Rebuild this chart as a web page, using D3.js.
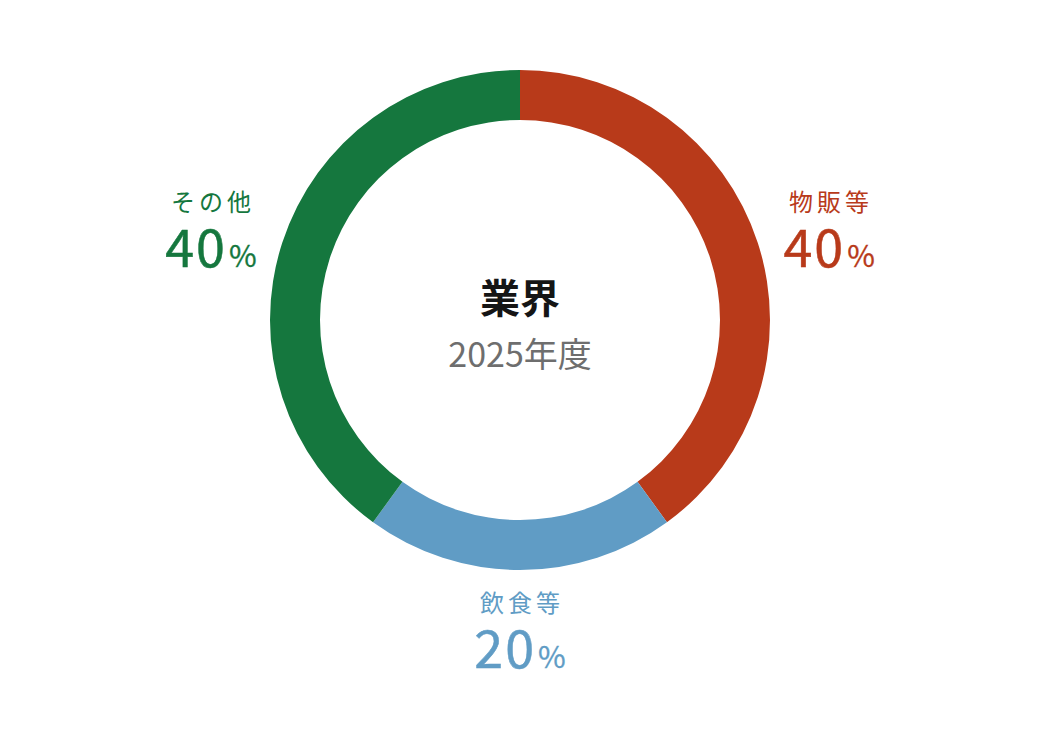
<!DOCTYPE html>
<html>
<head>
<meta charset="utf-8">
<script src="https://cdn.jsdelivr.net/npm/d3@7"></script>
<style>
  body { margin: 0; background: #fff; }
  svg { display: block; font-family: "Noto Sans CJK JP", "Noto Sans", sans-serif; }
</style>
</head>
<body>
<div id="app"></div>
<script>
  // chart data
  const categories = ['物販等', '飲食等', 'その他']
  const shares = [40, 20, 40]
  const colors = ['#b83a1a', '#609cc5', '#15773e']
  const title = '業界'
  const subtitle = '2025年度'

  const width = 1040
  const height = 736
  const cx = 520
  const cy = 320
  const outerR = 250
  const innerR = 200

  const data = categories.map(function (c, i) {
    return { name: c, value: shares[i], color: colors[i] }
  })

  const svg = d3.select('#app')
                .append('svg')
                .attr('width', width)
                .attr('height', height)

  const g = svg.append('g')
               .attr('transform', 'translate(' + cx + ',' + cy + ')')

  const pie = d3.pie()
                .sort(null)
                .value(function (d) { return d.value })

  const arc = d3.arc()
                .innerRadius(innerR)
                .outerRadius(outerR)

  const arcs = pie(data)

  g.selectAll('path')
   .data(arcs)
   .enter()
   .append('path')
   .attr('d', arc)
   .attr('fill', function (d) { return d.data.color })

  // labels sit outside the ring, a bit wider than tall
  const labelX = d3.arc().innerRadius(325).outerRadius(325)
  const labelY = d3.arc().innerRadius(306).outerRadius(306)

  const labels = g.selectAll('g.label')
                  .data(arcs)
                  .enter()
                  .append('g')
                  .attr('class', 'label')
                  .attr('transform', function (d) {
                    return 'translate(' + labelX.centroid(d)[0] + ',' + labelY.centroid(d)[1] + ')'
                  })
                  .style('fill', function (d) { return d.data.color })

  labels.append('text')
        .attr('text-anchor', 'middle')
        .attr('y', -14)
        .attr('dx', 2)
        .style('font-size', '24px')
        .style('letter-spacing', '4px')
        .text(function (d) { return d.data.name })

  // regular weight with a thin outline, reads as medium
  const val = labels.append('text')
                    .attr('text-anchor', 'middle')
                    .attr('y', 42)
                    .style('stroke', function (d) { return d.data.color })
                    .style('stroke-width', 0.5)
  val.append('tspan')
     .style('font-size', '52px')
     .style('letter-spacing', '2px')
     .text(function (d) { return d.data.value })
  val.append('tspan')
     .attr('dx', 2)
     .style('font-size', '30px')
     .style('stroke-width', 0.3)
     .text('%')

  // center text
  g.append('text')
   .attr('text-anchor', 'middle')
   .attr('y', -7)
   .style('font-size', '40px')
   .style('font-weight', 700)
   .style('fill', '#151515')
   .text(title)

  g.append('text')
   .attr('text-anchor', 'middle')
   .attr('y', 47)
   .style('font-size', '34px')
   .style('fill', '#6e6e6e')
   .text(subtitle)
</script>
</body>
</html>
